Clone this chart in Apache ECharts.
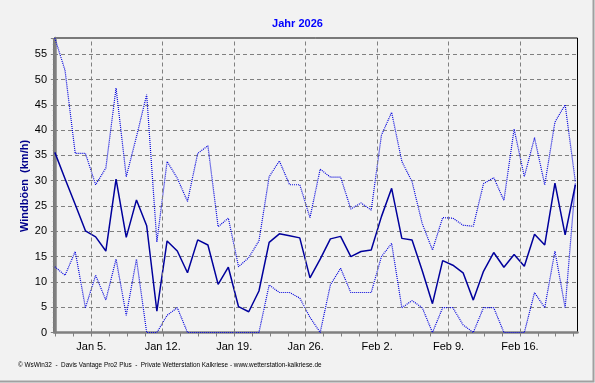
<!DOCTYPE html>
<html>
<head>
<meta charset="utf-8">
<script src="https://cdn.jsdelivr.net/npm/echarts@6/dist/echarts.min.js"></script>
<style>
html,body{margin:0;padding:0;background:#f2f2f2;}
#chart{width:595px;height:383px;}
</style>
</head>
<body>
<div id="chart"></div>
<script>
// ---- data (Jan 1 .. Feb 21, 2026; one value per day) ----
const avgGust = [35.6, 30.4, 25.3, 20.1, 18.9, 16.1, 30.3, 18.8, 26.2, 21.1,
                 4.2, 18.1, 16.1, 11.8, 18.3, 17.3, 9.5, 12.9, 5.1, 4.1,
                 8.2, 17.8, 19.5, 19.1, 18.7, 10.8, 14.5, 18.5, 19.0, 15.0,
                 16.0, 16.3, 22.9, 28.5, 18.6, 18.3, 12.2, 5.7, 14.2, 13.3,
                 11.8, 6.4, 12.1, 15.8, 12.9, 15.4, 13.1, 19.4, 17.3, 29.5,
                 19.3, 29.2];
const maxGust = [58.2, 51.8, 35.4, 35.4, 29.2, 32.5, 48.3, 30.8, 38.7, 47.0,
                 17.9, 33.8, 30.5, 25.9, 35.4, 36.9, 20.9, 22.6, 13.0, 14.8,
                 18.1, 30.8, 33.9, 29.2, 29.2, 22.7, 32.3, 30.7, 30.7, 24.4,
                 25.6, 24.2, 39.0, 43.5, 33.8, 29.8, 21.5, 16.3, 22.7, 22.6,
                 21.2, 21.0, 29.4, 30.6, 26.1, 40.2, 30.8, 38.5, 29.2, 41.6,
                 45.0, 29.8];
const minGust = [13.0, 11.3, 16.0, 4.9, 11.3, 6.4, 14.5, 3.4, 14.5, 0,
                 0, 3.4, 4.9, 0, 0, 0, 0, 0, 0, 0,
                 0, 9.4, 7.9, 7.9, 6.8, 3.0, 0, 9.4, 12.7, 7.9,
                 7.9, 7.9, 15.0, 17.6, 4.9, 6.3, 4.9, 0, 4.9, 4.9,
                 1.5, 0, 4.9, 4.9, 0, 0, 0, 7.9, 4.9, 16.1,
                 4.9, 29.5];
const weekLabels = ['Jan 5.', 'Jan 12.', 'Jan 19.', 'Jan 26.', 'Feb 2.', 'Feb 9.', 'Feb 16.'];
const yTickValues = [0, 5, 10, 15, 20, 25, 30, 35, 40, 45, 50, 55];
const titleText = 'Jahr 2026';
const yName = 'Windböen  (km/h)';
const footer = '\u00a9 WsWin32  -  Davis Vantage Pro2 Plus  -  Private Wetterstation Kalkriese - www.wetterstation-kalkriese.de';

// axis geometry (in days from Jan 1)
const xMin = -0.08, xMax = 51.21, firstGrid = 3.575;
const gridDays = weekLabels.map((_, k) => firstGrid + 7 * k);
const minorDays = [];
for (let d = firstGrid - 3.5; d <= xMax; d += 1.75) minorDays.push(+d.toFixed(3));

const toXY = arr => arr.map((v, i) => [i, v]);

const chart = echarts.init(document.getElementById('chart'), null, {renderer: 'canvas'});
const FONT = 'Liberation Sans, Arial, sans-serif';
chart.setOption({
  backgroundColor: '#f2f2f2',
  animation: false,
  title: {
    text: titleText, left: 'center', top: 13,
    textStyle: {color: '#0000ff', fontSize: 11, fontWeight: 'bold', fontFamily: FONT}
  },
  grid: {left: 54, right: 17.5, top: 38, bottom: 50.5, show: true,
         borderColor: '#000', borderWidth: 1, backgroundColor: 'transparent'},
  xAxis: {
    type: 'value', min: xMin, max: xMax,
    axisLine: {show: true, lineStyle: {color: '#808080', width: 2.5}},
    axisTick: {show: true, customValues: minorDays, length: 4, lineStyle: {color: '#808080', width: 1}},
    axisLabel: {
      customValues: gridDays, margin: 9, color: '#000', fontSize: 11, fontFamily: FONT,
      formatter: v => weekLabels[Math.round((v - firstGrid) / 7)] || ''
    },
    splitLine: {show: false}
  },
  yAxis: {
    type: 'value', min: 0, max: 58.2, interval: 5,
    axisLine: {show: true, lineStyle: {color: '#808080', width: 2.5}},
    axisTick: {show: true, length: 4, lineStyle: {color: '#808080'}},
    minorTick: {show: true, splitNumber: 5, length: 2, lineStyle: {color: '#808080'}},
    axisLabel: {margin: 7, color: '#000', fontSize: 11, fontFamily: FONT,
      formatter: v => yTickValues.indexOf(v) >= 0 ? String(v) : ''},
    splitLine: {show: true, showMinLine: false, showMaxLine: false,
      lineStyle: {color: '#808080', type: [4, 3], width: 1}}
  },
  series: [
    {
      type: 'line', z: 1, silent: true, symbol: 'none',
      data: toXY(avgGust), lineStyle: {opacity: 0},
      markLine: {
        silent: true, symbol: ['none', 'none'], label: {show: false},
        lineStyle: {color: '#808080', type: [4, 3], width: 1},
        data: gridDays.map(d => ({xAxis: d}))
      }
    },
    {type: 'line', z: 3, symbol: 'none', data: toXY(maxGust),
     lineStyle: {color: '#0000dd', width: 1.2, type: [1, 1]}},
    {type: 'line', z: 3, symbol: 'none', data: toXY(minGust),
     lineStyle: {color: '#0000dd', width: 1.2, type: [1, 1]}},
    {type: 'line', z: 4, symbol: 'none', data: toXY(avgGust),
     lineStyle: {color: '#00009c', width: 1.5}}
  ],
  graphic: [
    {type: 'text', x: 25, y: 186, rotation: Math.PI / 2,
     style: {text: yName, fill: '#00008b', font: 'bold 11px ' + FONT,
             textAlign: 'center', textVerticalAlign: 'middle'}},
    {type: 'text', x: 18, y: 365,
     style: {text: footer, fill: '#000', font: '6.4px ' + FONT, textVerticalAlign: 'middle'}},
    {type: 'polyline', shape: {points: [[593.5, 0], [593.5, 381.5], [0, 381.5]]},
     style: {stroke: '#a0a0a0', lineWidth: 2, fill: null}}
  ]
});
</script>
</body>
</html>
